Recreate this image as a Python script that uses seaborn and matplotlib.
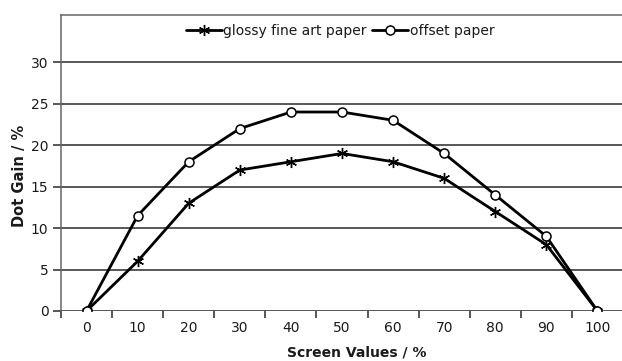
import matplotlib
matplotlib.use("Agg")
import matplotlib.pyplot as plt
import seaborn as sns
import pandas as pd

screen_values = [0, 10, 20, 30, 40, 50, 60, 70, 80, 90, 100]
glossy_fine_art = [0, 6, 13, 17, 18, 19, 18, 16, 12, 8, 0]
offset_paper = [0, 11.5, 18, 22, 24, 24, 23, 19, 14, 9, 0]
y_ticks = [0, 5, 10, 15, 20, 25, 30]

sns.set_theme(style="white")
plt.rcParams["font.family"] = ["DejaVu Sans"]
plt.rcParams["text.color"] = "#1a1a1a"
plt.rcParams["axes.labelcolor"] = "#1a1a1a"
plt.rcParams["xtick.color"] = "#1a1a1a"
plt.rcParams["ytick.color"] = "#1a1a1a"

pos = list(range(len(screen_values)))
df = pd.DataFrame({
    "pos": pos * 2,
    "gain": glossy_fine_art + offset_paper,
    "paper": ["glossy fine art paper"] * len(pos) + ["offset paper"] * len(pos),
})

fig = plt.figure(figsize=(6.22, 3.61), dpi=100)
W, H = 622, 361
ax = fig.add_axes([61 / W, (H - 311) / H, 562 / W, (311 - 15) / H])

for axis_line in y_ticks:
    ax.axhline(axis_line, color="#2a2a2a", lw=1.1, zorder=1)

sns.lineplot(data=df[df.paper == "glossy fine art paper"], x="pos", y="gain",
             ax=ax, color="black", lw=2.0, marker=(6, 2, 0), markersize=8,
             markeredgewidth=1.0, markeredgecolor="black",
             label="glossy fine art paper", zorder=3)
sns.lineplot(data=df[df.paper == "offset paper"], x="pos", y="gain",
             ax=ax, color="black", lw=2.0, marker="o", markersize=6.5,
             markerfacecolor="white", markeredgewidth=1.1, markeredgecolor="black",
             label="offset paper", zorder=4)

ax.set_xlim(-0.5, len(pos) - 0.5)
ax.set_ylim(0, 35.7)
ax.set_yticks(y_ticks)
ax.set_yticklabels([str(v) for v in y_ticks], fontsize=10)
ax.set_xticks(pos)
ax.set_xticklabels([str(v) for v in screen_values], fontsize=10)
ax.tick_params(axis="x", length=0, pad=7)
ax.set_xticks([p - 0.5 for p in pos] + [len(pos) - 0.5], minor=True)
ax.tick_params(axis="x", which="minor", length=5, width=1.1, color="#2a2a2a", bottom=True, direction="out")
ax.tick_params(axis="y", length=6, width=1.1, color="#2a2a2a", left=True, direction="out", pad=3)

for side in ["top", "left"]:
    ax.spines[side].set_color("#666666")
    ax.spines[side].set_linewidth(1.1)
ax.spines["bottom"].set_visible(False)
ax.spines["right"].set_visible(False)

ax.set_xlabel("Screen Values / %", fontsize=10, fontweight="bold")
ax.set_ylabel("Dot Gain / %", fontsize=10.5, fontweight="bold")
ax.xaxis.set_label_coords((357 - 61) / 562, -(352 - 311) / 296, transform=ax.transAxes)
ax.yaxis.set_label_coords(-(61 - 19) / 562, (311 - 176) / 296, transform=ax.transAxes)
ax.xaxis.label.set_va("center")
ax.yaxis.label.set_va("center")

leg = ax.legend(loc="upper center", bbox_to_anchor=((340 - 61) / 562, 1.0), ncol=2, frameon=False,
                fontsize=10, handlelength=2.6, handletextpad=0.1, columnspacing=0.4,
                borderaxespad=0.25)

fig.savefig("out.png", dpi=100)
